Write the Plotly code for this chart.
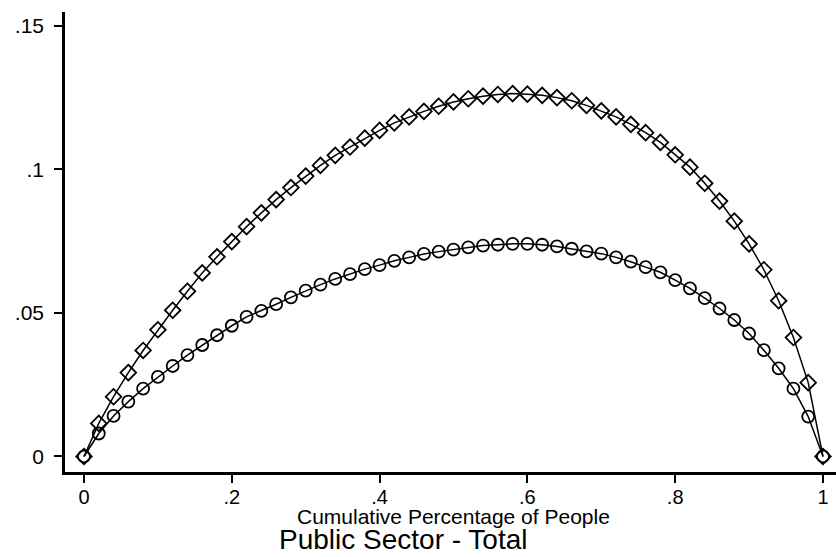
import plotly.graph_objects as go

x_vals = [round(i * 0.02, 2) for i in range(51)]

diamond_y = [0.0, 0.0115, 0.0208, 0.0292, 0.0369, 0.0441, 0.0509, 0.0575, 0.0639, 0.0695,
             0.0748, 0.0800, 0.0848, 0.0894, 0.0936, 0.0976, 0.1013, 0.1048, 0.1077, 0.1108,
             0.1135, 0.1161, 0.1182, 0.1201, 0.1219, 0.1234, 0.1245, 0.1254, 0.1260, 0.1263,
             0.1261, 0.1257, 0.1249, 0.1238, 0.1222, 0.1203, 0.1182, 0.1156, 0.1127, 0.1093,
             0.1050, 0.1007, 0.0951, 0.0889, 0.0819, 0.0740, 0.0650, 0.0542, 0.0414, 0.0257,
             0.0]

circle_y = [0.0, 0.0080, 0.0141, 0.0191, 0.0236, 0.0277, 0.0315, 0.0353, 0.0388, 0.0422,
            0.0455, 0.0486, 0.0507, 0.0530, 0.0554, 0.0577, 0.0598, 0.0618, 0.0635, 0.0652,
            0.0666, 0.0681, 0.0693, 0.0705, 0.0713, 0.0720, 0.0728, 0.0734, 0.0737, 0.0740,
            0.0740, 0.0737, 0.0731, 0.0723, 0.0714, 0.0706, 0.0693, 0.0678, 0.0659, 0.0641,
            0.0614, 0.0585, 0.0551, 0.0515, 0.0475, 0.0428, 0.0370, 0.0307, 0.0236, 0.0139,
            0.0]

x_tickvals = [0, 0.2, 0.4, 0.6, 0.8, 1]
x_ticktext = ["0", ".2", ".4", ".6", ".8", "1"]
y_tickvals = [0, 0.05, 0.1, 0.15]
y_ticktext = ["0", ".05", ".1", ".15"]

font_family = "Liberation Sans, Arial, Helvetica, sans-serif"

fig = go.Figure()
fig.add_trace(go.Scatter(
    x=x_vals, y=diamond_y, mode="lines+markers",
    line=dict(color="black", width=1.5),
    marker=dict(symbol="diamond-open", size=12, color="black", line=dict(width=1.8)),
    showlegend=False))
fig.add_trace(go.Scatter(
    x=x_vals, y=circle_y, mode="lines+markers",
    line=dict(color="black", width=1.5),
    marker=dict(symbol="circle-open", size=12, color="black", line=dict(width=1.8)),
    showlegend=False))

fig.update_layout(
    width=836, height=557,
    margin=dict(l=65, r=0, t=12, b=85),
    paper_bgcolor="white", plot_bgcolor="white",
    font=dict(family=font_family, color="black", size=21),
    xaxis=dict(range=[-0.0257, 1.0176], tickvals=x_tickvals, ticktext=x_ticktext,
               showgrid=False, zeroline=False, showline=True, linecolor="black", linewidth=2.5,
               ticks="outside", ticklen=8, tickwidth=1.8, tickcolor="black",
               ticklabelstandoff=-3, tickfont=dict(size=20)),
    yaxis=dict(range=[-0.0054, 0.1547], tickvals=y_tickvals, ticktext=y_ticktext,
               showgrid=False, zeroline=False, showline=True, linecolor="black", linewidth=2.5,
               ticks="outside", ticklen=8, tickwidth=1.8, tickcolor="black",
               ticklabelstandoff=6, tickfont=dict(size=21)),
    annotations=[
        dict(text="Cumulative Percentage of People", xref="paper", yref="paper",
             x=(453 - 65) / 771, y=(472 - 516) / 460, xanchor="center", yanchor="middle",
             showarrow=False, font=dict(size=21)),
        dict(text="Public Sector - Total", xref="paper", yref="paper",
             x=(403 - 65) / 771, y=(472 - 557) / 460, xanchor="center", yanchor="bottom",
             showarrow=False, font=dict(size=28)),
    ],
)

fig.write_html("out.html")
